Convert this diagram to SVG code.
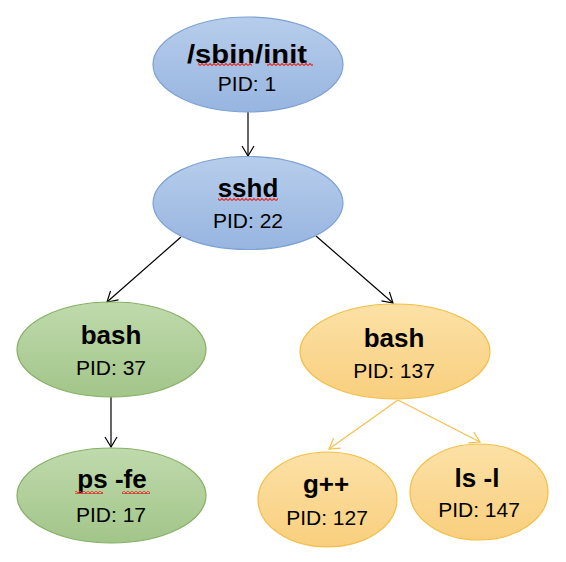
<svg xmlns="http://www.w3.org/2000/svg" width="566" height="562" viewBox="0 0 566 562">
<defs>
<linearGradient id="gBlue" x1="0" y1="0" x2="0" y2="1"><stop offset="0" stop-color="#B7CDEB"/><stop offset="1" stop-color="#97B5E0"/></linearGradient>
<linearGradient id="gGreen" x1="0" y1="0" x2="0" y2="1"><stop offset="0" stop-color="#BFDAAC"/><stop offset="1" stop-color="#A2C589"/></linearGradient>
<linearGradient id="gOrange" x1="0" y1="0" x2="0" y2="1"><stop offset="0" stop-color="#FCE1A6"/><stop offset="1" stop-color="#F9CF7E"/></linearGradient>
<marker id="arrBlack" markerUnits="userSpaceOnUse" markerWidth="12" markerHeight="14" refX="10" refY="6" orient="auto" viewBox="-1 -1 12 14">
<path d="M0,0 L10,6 L0,12" fill="none" stroke="#000" stroke-width="1.2"/>
</marker>
<marker id="arrOrange" markerUnits="userSpaceOnUse" markerWidth="12" markerHeight="14" refX="10" refY="6" orient="auto" viewBox="-1 -1 12 14">
<path d="M0,0 L10,6 L0,12" fill="none" stroke="#F4C04A" stroke-width="1.2"/>
</marker>
<pattern id="wavy" patternUnits="userSpaceOnUse" width="4" height="3">
<path d="M0,2.5 L2,0.5 L4,2.5" fill="none" stroke="#E0302A" stroke-width="1.2"/>
</pattern>
</defs>
<style>
.blue{fill:url(#gBlue);stroke:#7BA1D5;stroke-width:1.2}
.green{fill:url(#gGreen);stroke:#86B064;stroke-width:1.2}
.orange{fill:url(#gOrange);stroke:#F3BE45;stroke-width:1.2}
.title{font-family:"Liberation Sans",Arial,sans-serif;font-weight:bold;font-size:26px;fill:#000;text-anchor:middle}
.pid{font-family:"Liberation Sans",Arial,sans-serif;font-size:21px;fill:#000;text-anchor:middle}
.cb{stroke:#000;stroke-width:1.2;fill:none;marker-end:url(#arrBlack)}
.co{stroke:#F4C04A;stroke-width:1.2;fill:none;marker-end:url(#arrOrange)}
.sq{fill:url(#wavy)}
</style>
<rect width="566" height="562" fill="#fff"/>
<g id="connectors">
<line class="cb" x1="248" y1="112" x2="248" y2="156"/>
<line class="cb" x1="181" y1="237" x2="107" y2="302"/>
<line class="cb" x1="316" y1="236" x2="393" y2="303"/>
<line class="cb" x1="111" y1="397" x2="111" y2="447"/>
<line class="co" x1="398" y1="400" x2="329" y2="449"/>
<line class="co" x1="398" y1="400" x2="480" y2="442"/>
</g>
<g id="node-init">
<ellipse class="blue" cx="248" cy="64.5" rx="95" ry="47.5"/>
<text class="title" x="247" y="63" textLength="120" lengthAdjust="spacingAndGlyphs">/sbin/init</text>
<text class="pid" x="247" y="91">PID: 1</text>
<rect class="sq" x="198" y="63" width="54" height="3"/>
<rect class="sq" x="267" y="63" width="46" height="3"/>
</g>
<g id="node-sshd">
<ellipse class="blue" cx="248" cy="203" rx="95" ry="46.5"/>
<text class="title" x="248" y="197">sshd</text>
<text class="pid" x="248" y="228">PID: 22</text>
<rect class="sq" x="218" y="198" width="60" height="3"/>
</g>
<g id="node-bash37">
<ellipse class="green" cx="111.5" cy="349.5" rx="94.5" ry="47.5"/>
<text class="title" x="111" y="344">bash</text>
<text class="pid" x="111" y="375">PID: 37</text>
</g>
<g id="node-psfe">
<ellipse class="green" cx="111.5" cy="495.5" rx="94.5" ry="47.5"/>
<text class="title" x="112" y="488">ps -fe</text>
<text class="pid" x="111" y="522">PID: 17</text>
<rect class="sq" x="75" y="491" width="28" height="3"/>
<rect class="sq" x="122" y="491" width="28" height="3"/>
</g>
<g id="node-bash137">
<ellipse class="orange" cx="395" cy="351.5" rx="95" ry="47.5"/>
<text class="title" x="394" y="347">bash</text>
<text class="pid" x="394" y="378">PID: 137</text>
</g>
<g id="node-gpp">
<ellipse class="orange" cx="327.5" cy="499.5" rx="69.5" ry="47.5"/>
<text class="title" x="326" y="493">g++</text>
<text class="pid" x="327" y="525">PID: 127</text>
</g>
<g id="node-ls">
<ellipse class="orange" cx="479" cy="492" rx="69" ry="48"/>
<text class="title" x="477" y="487">ls -l</text>
<text class="pid" x="479" y="517">PID: 147</text>
</g>
</svg>
